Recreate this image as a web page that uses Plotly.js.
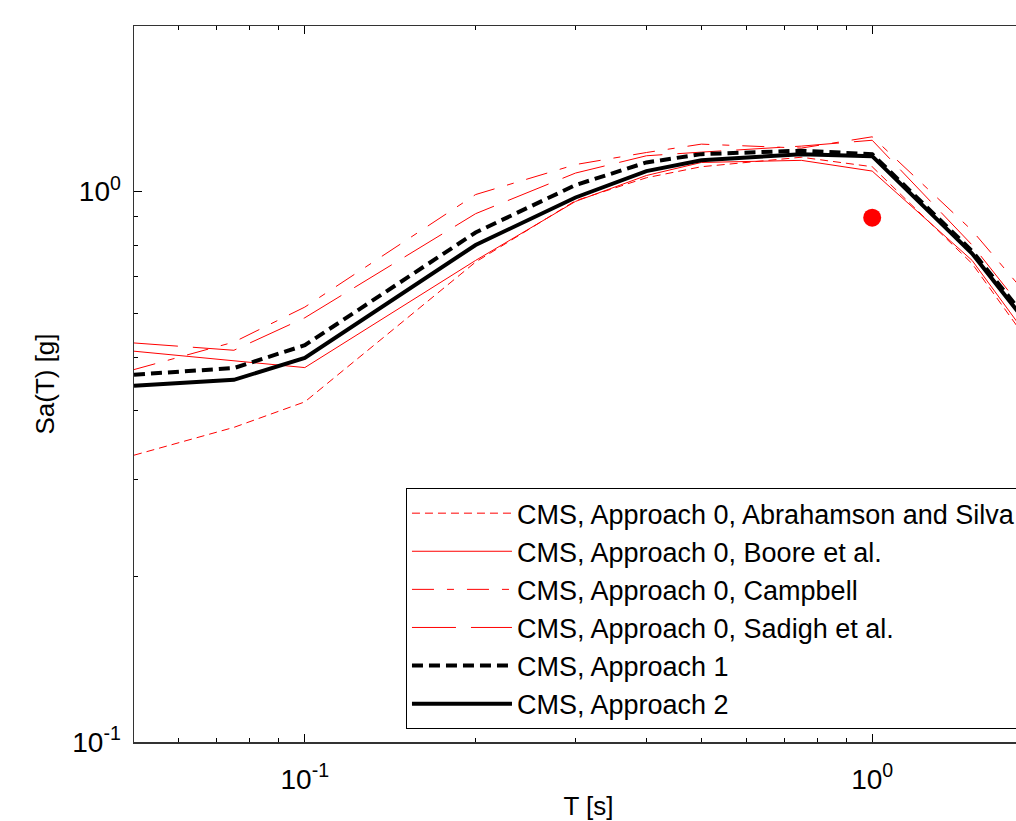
<!DOCTYPE html>
<html>
<head>
<meta charset="utf-8">
<script src="https://cdn.plot.ly/plotly-3.0.1.min.js"></script>
<style>
html,body{margin:0;padding:0;overflow:hidden;background:#fff;}
#chart{width:1060px;height:821px;}
</style>
</head>
<body>
<div id="chart"></div>
<script>
// Periods T [s]
const periods = [0.05, 0.075, 0.1, 0.2, 0.3, 0.4, 0.5, 0.75, 1, 1.5, 2];

// Sa(T) [g] for each CMS
const abrahamsonSilva = [0.332, 0.373, 0.415, 0.745, 0.963, 1.06, 1.11, 1.155, 1.11, 0.74, 0.49];
const booreEtAl       = [0.513, 0.492, 0.479, 0.750, 0.960, 1.07, 1.13, 1.14, 1.09, 0.75, 0.50];
const campbell        = [0.475, 0.533, 0.617, 0.988, 1.12, 1.178, 1.22, 1.20, 1.258, 0.85, 0.60];
const sadighEtAl      = [0.531, 0.515, 0.590, 0.912, 1.081, 1.162, 1.18, 1.21, 1.24, 0.80, 0.55];
const approach1       = [0.465, 0.478, 0.526, 0.843, 1.028, 1.13, 1.17, 1.187, 1.17, 0.78, 0.54];
const approach2       = [0.444, 0.455, 0.499, 0.800, 0.976, 1.09, 1.14, 1.17, 1.16, 0.772, 0.53];

// Target point
const targetT = [1];
const targetSa = [0.897];

const seriesNames = [
  'CMS, Approach 0, Abrahamson and Silva',
  'CMS, Approach 0, Boore et al.',
  'CMS, Approach 0, Campbell',
  'CMS, Approach 0, Sadigh et al.',
  'CMS, Approach 1',
  'CMS, Approach 2'
];

const xMajorVals = [0.1, 1];
const xMajorText = ['10<sup>-1</sup>', '10<sup>0</sup>'];
const xMinorVals = [0.06, 0.07, 0.08, 0.09, 0.2, 0.3, 0.4, 0.5, 0.6, 0.7, 0.8, 0.9, 2];
const yMajorVals = [0.1, 1];
const yMajorText = ['10<sup>-1</sup>', '10<sup>0</sup>'];
const yMinorVals = [0.2, 0.3, 0.4, 0.5, 0.6, 0.7, 0.8, 0.9, 2];

const FONT = 'Liberation Sans, Arial, Helvetica, sans-serif';

const traces = [
  {x: periods, y: abrahamsonSilva, name: seriesNames[0], mode: 'lines',
   line: {color: '#ff0000', width: 1, dash: '8px,5px'}},
  {x: periods, y: booreEtAl, name: seriesNames[1], mode: 'lines',
   line: {color: '#ff0000', width: 1}},
  {x: periods, y: campbell, name: seriesNames[2], mode: 'lines',
   line: {color: '#ff0000', width: 1, dash: '22px,13px,7px,13px'}},
  {x: periods, y: sadighEtAl, name: seriesNames[3], mode: 'lines',
   line: {color: '#ff0000', width: 1, dash: '44px,15px'}},
  {x: periods, y: approach1, name: seriesNames[4], mode: 'lines',
   line: {color: '#000000', width: 4, dash: '11px,6px'}},
  {x: periods, y: approach2, name: seriesNames[5], mode: 'lines',
   line: {color: '#000000', width: 4}},
  {x: targetT, y: targetSa, mode: 'markers', showlegend: false,
   marker: {color: '#ff0000', size: 18, line: {width: 0}}}
];

const layout = {
  width: 1060,
  height: 821,
  margin: {l: 134, r: 17, t: 26, b: 79},
  paper_bgcolor: '#ffffff',
  plot_bgcolor: '#ffffff',
  font: {family: FONT, color: '#000000', size: 26},
  showlegend: true,
  legend: {
    x: 0.2992, y: 0.018, xanchor: 'left', yanchor: 'bottom',
    bgcolor: '#ffffff', bordercolor: '#000000', borderwidth: 1,
    font: {family: FONT, size: 27, color: '#000000'},
    itemwidth: 100,
    tracegroupgap: 0
  },
  xaxis: {
    type: 'log',
    range: [Math.log10(0.05), Math.log10(2)],
    tickmode: 'array', tickvals: xMajorVals, ticktext: xMajorText,
    ticks: 'inside', ticklen: 8, tickwidth: 1, tickcolor: '#000',
    minor: {tickmode: 'array', tickvals: xMinorVals, ticks: 'inside', ticklen: 4, tickwidth: 1, tickcolor: '#000', showgrid: false},
    showgrid: false, zeroline: false,
    showline: true, linecolor: '#333', linewidth: 1.5, mirror: 'ticks',
    ticklabelstandoff: 12,
    tickfont: {family: FONT, size: 28, color: '#000'},
    title: {text: 'T [s]', font: {family: FONT, size: 26, color: '#000'}, standoff: 26}
  },
  yaxis: {
    type: 'log',
    range: [-1, Math.log10(2)],
    tickmode: 'array', tickvals: yMajorVals, ticktext: yMajorText,
    ticks: 'inside', ticklen: 8, tickwidth: 1, tickcolor: '#000',
    minor: {tickmode: 'array', tickvals: yMinorVals, ticks: 'inside', ticklen: 4, tickwidth: 1, tickcolor: '#000', showgrid: false},
    showgrid: false, zeroline: false,
    showline: true, linecolor: '#333', linewidth: 1.5, mirror: 'ticks',
    ticklabelstandoff: 6,
    tickfont: {family: FONT, size: 28, color: '#000'},
    title: {text: 'Sa(T) [g]', font: {family: FONT, size: 26, color: '#000'}, standoff: 10}
  }
};

Plotly.newPlot('chart', traces, layout, {displayModeBar: false, staticPlot: true});
</script>
</body>
</html>
